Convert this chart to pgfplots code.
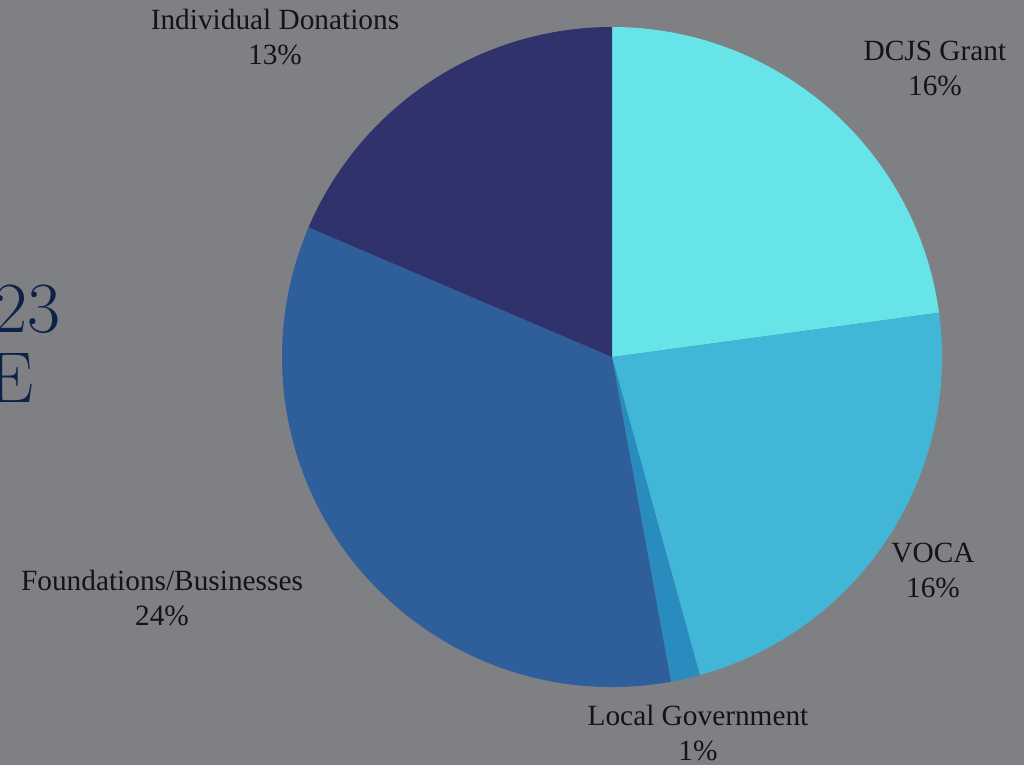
\documentclass[border=0pt]{standalone}
\usepackage{pgfplots}
\usepackage{pgfplotstable}
\usepackage{fontspec}
\setmainfont{Liberation Serif}
\newfontfamily\titlefont{Latin Modern Roman}
\pgfplotsset{compat=1.18}

\definecolor{bg}{HTML}{7F8084}
\definecolor{c0}{HTML}{67E4E7}
\definecolor{c1}{HTML}{42B6D6}
\definecolor{c2}{HTML}{2A8BBF}
\definecolor{c3}{HTML}{2E5F9A}
\definecolor{c4}{HTML}{30336B}
\definecolor{navy}{HTML}{0E2149}
\definecolor{ink}{HTML}{141414}

% revenue sources, in the order they go round the pie (clockwise from 12 o'clock)
\pgfplotstableread{
source value
DCJS 16
VOCA 16
LocalGov 1
Foundations 24
Individual 13
}\revenue

\begin{document}
\begin{tikzpicture}
% 1 px of the reference = 0.75pt
\useasboundingbox (0,0) rectangle (768pt,573.75pt);
\fill[bg] (0,0) rectangle (768pt,573.75pt);
\clip (0,0) rectangle (768pt,573.75pt);

% start and end angle of each slice
\pgfplotstablegetrowsof{\revenue}
\pgfmathtruncatemacro\nrows{\pgfplotsretval-1}
\gdef\total{0}
\foreach \i in {0,...,\nrows}{
  \pgfplotstablegetelem{\i}{value}\of\revenue
  \pgfmathparse{\total+\pgfplotsretval}\xdef\total{\pgfmathresult}
}
\gdef\acc{0}
\foreach \i in {0,...,\nrows}{
  \pgfplotstablegetelem{\i}{value}\of\revenue
  \let\val\pgfplotsretval
  \pgfmathsetmacro\a{90-\acc/\total*360}
  \pgfmathsetmacro\b{90-(\acc+\val)/\total*360}
  \pgfmathsetmacro\px{612+330*cos(\a)}
  \pgfmathsetmacro\py{408+330*sin(\a)}
  \expandafter\xdef\csname sa\i\endcsname{\a}
  \expandafter\xdef\csname ea\i\endcsname{\b}
  \expandafter\xdef\csname px\i\endcsname{\px}
  \expandafter\xdef\csname py\i\endcsname{\py}
  \pgfmathparse{\acc+\val}\xdef\acc{\pgfmathresult}
}

\begin{axis}[
  at={(0,0)}, anchor=south west,
  x=0.75pt, y=0.75pt,
  xmin=0, xmax=1024, ymin=0, ymax=765,
  hide axis, clip=false,
]
\pgfplotsinvokeforeach{0,...,4}{
  \fill[c#1] (axis cs:612,408) -- (axis cs:\csname px#1\endcsname,\csname py#1\endcsname)
    arc[start angle=\csname sa#1\endcsname, end angle=\csname ea#1\endcsname, radius=330] -- cycle;
}

\tikzset{lbl/.style={align=center, text=ink, font=\fontsize{22}{26.25}\selectfont}}
\node[lbl] at (axis cs:275,728) {Individual Donations\\13\%};
\node[lbl] at (axis cs:935,697) {DCJS Grant\\16\%};
\node[lbl] at (axis cs:933,195) {VOCA\\16\%};
\node[lbl] at (axis cs:162,167) {Foundations/Businesses\\24\%};
\node[lbl] at (axis cs:698,32) {Local Government\\1\%};

\node[anchor=base east, inner sep=0pt, text=navy, font=\titlefont\fontsize{54}{60}\selectfont] at (axis cs:61,432) {23};
\node[anchor=base east, inner sep=0pt, text=navy, font=\titlefont\fontsize{54}{60}\selectfont] at (axis cs:34,363) {E};
\end{axis}
\end{tikzpicture}
\end{document}
